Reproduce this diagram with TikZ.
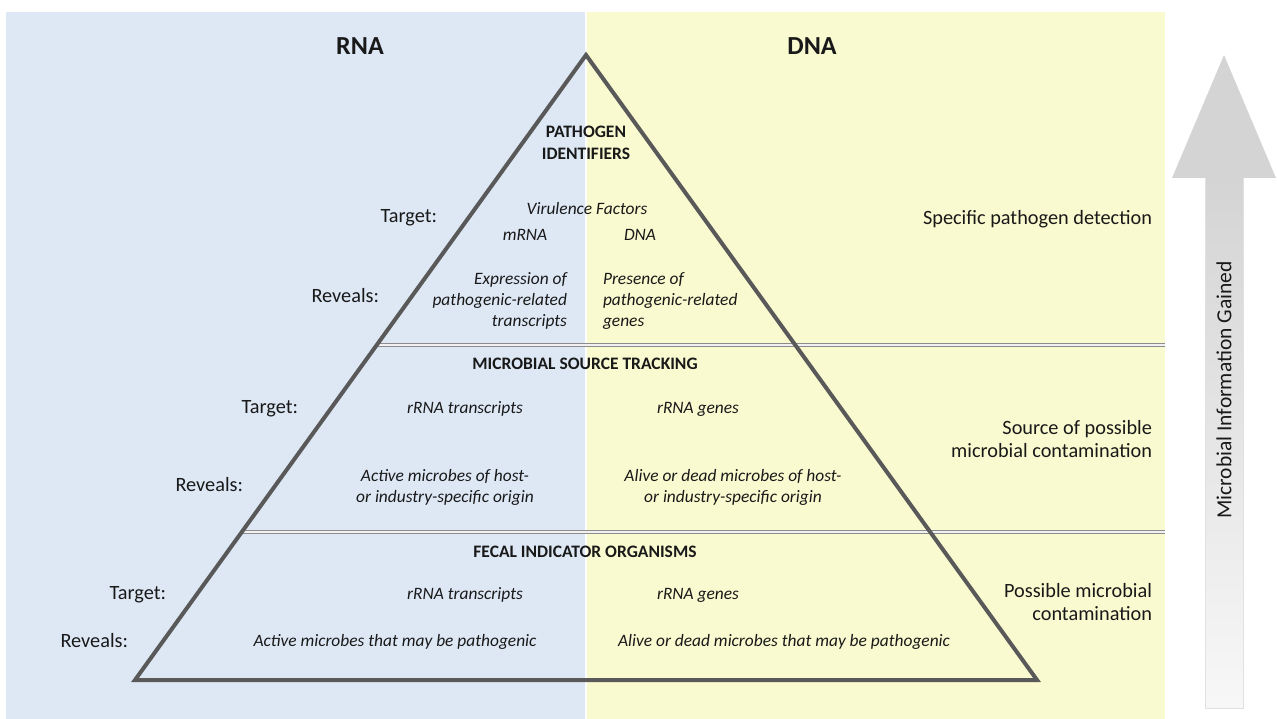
\documentclass[tikz,border=0pt]{standalone}
\usepackage{fontspec}
\setmainfont{Carlito}
\definecolor{rnabg}{RGB}{222,232,245}
\definecolor{dnabg}{RGB}{250,250,208}
\definecolor{pyr}{RGB}{89,89,89}
\definecolor{sepc}{RGB}{140,140,140}
\definecolor{arr}{RGB}{212,212,212}
\definecolor{txt}{RGB}{25,25,25}
\tikzset{
  every node/.style={inner sep=0pt, outer sep=0pt, text=txt},
  head/.style={font=\fontsize{26}{30}\selectfont\bfseries},
  title/.style={font=\fontsize{17.5}{21.5}\selectfont\bfseries, align=center},
  lab/.style={font=\fontsize{20.3}{24}\selectfont},
  itl/.style={font=\fontsize{17.4}{21}\selectfont\itshape},
  side/.style={font=\fontsize{20.3}{23.5}\selectfont, align=right, anchor=east},
  seprule/.style={draw=sepc, double=white!88!sepc, double distance=2.2pt, line width=1.1pt},
  pyrline/.style={draw=pyr, line width=4pt, line join=miter},
}
\begin{document}
\begin{tikzpicture}[x=1pt,y=-1pt]
\useasboundingbox (0,0) rectangle (1277,719);
% panels
\fill[rnabg] (6,12) rectangle (584.5,719);
\fill[dnabg] (587,12) rectangle (1165,719);
% arrow
\coordinate (tip) at (1224,55);
\shade[top color=arr, bottom color=white!97!black] (1205,176) rectangle (1243,708);
\draw[draw=arr!70!white, line width=0.8pt] (1205,176) -- (1205,708) -- (1243,708) -- (1243,176);
\fill[arr] (1172,178) -- (tip) -- (1276,178) -- cycle;
\node[font=\fontsize{21.5}{24}\selectfont, rotate=90] (info) at (1224,390) {Microbial Information Gained};
% headers
\node[head] (rna) at (360,46) {RNA};
\node[head] (dna) at (812,46) {DNA};
% pyramid coordinates
\coordinate (apex) at (586,55);
\coordinate (bl) at (135,680);
\coordinate (br) at (1037,680);
\coordinate (s1l) at (377,345);
\coordinate (s1r) at (1165,345);
\coordinate (s2l) at (242,532);
\coordinate (s2r) at (1165,532);
\draw[seprule] (s1l) -- (s1r);
\draw[seprule] (s2l) -- (s2r);
\draw[pyrline] (apex) -- (br) -- (bl) -- cycle;
% level 1
\node[title] (pt) at (586,143) {PATHOGEN\\IDENTIFIERS};
\node[lab, anchor=east] (t1) at (437,218) {Target:};
\node[itl] (vf) at (587,209) {Virulence Factors};
\node[itl] (mrna) at (525,235) {mRNA};
\node[itl] (dna1) at (640,235) {DNA};
\node[lab, anchor=east] (r1) at (379,296) {Reveals:};
\node[itl, align=right, anchor=east] (exp) at (567,301) {Expression of\\pathogenic-related\\transcripts};
\node[itl, align=left, anchor=west] (pres) at (603,301) {Presence of\\pathogenic-related\\genes};
\node[side] (sp) at (1152,219) {Specific pathogen detection};
% level 2
\node[title] (mst) at (585,364) {MICROBIAL SOURCE TRACKING};
\node[lab, anchor=east] (t2) at (298,409) {Target:};
\node[itl] (rt2) at (465,409) {rRNA transcripts};
\node[itl] (rg2) at (698,409) {rRNA genes};
\node[lab, anchor=east] (r2) at (243,485) {Reveals:};
\node[itl, align=center] (am2) at (445,487) {Active microbes of host-\\or industry-specific origin};
\node[itl, align=center] (ad2) at (733,487) {Alive or dead microbes of host-\\or industry-specific origin};
\node[side] (src) at (1152,439) {Source of possible\\microbial contamination};
% level 3
\node[title] (fec) at (585,552) {FECAL INDICATOR ORGANISMS};
\node[lab, anchor=east] (t3) at (166,595) {Target:};
\node[itl] (rt3) at (465,595) {rRNA transcripts};
\node[itl] (rg3) at (698,595) {rRNA genes};
\node[lab, anchor=east] (r3) at (128,641) {Reveals:};
\node[itl] (am3) at (395,642) {Active microbes that may be pathogenic};
\node[itl] (ad3) at (784,642) {Alive or dead microbes that may be pathogenic};
\node[side] (pos) at (1152,602) {Possible microbial\\contamination};
\end{tikzpicture}
\end{document}
